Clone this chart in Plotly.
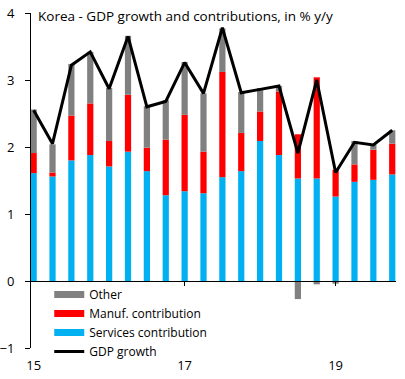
import plotly.graph_objects as go

quarters = [f"{y}Q{q}" for y in range(2015, 2020) for q in range(1, 5)]
services = [1.61, 1.56, 1.80, 1.88, 1.71, 1.93, 1.64, 1.28, 1.34, 1.31,
            1.55, 1.64, 2.09, 1.88, 1.53, 1.53, 1.26, 1.48, 1.51, 1.59]
manuf = [0.30, 0.06, 0.67, 0.77, 0.38, 0.85, 0.35, 0.83, 1.14, 0.62,
         1.57, 0.57, 0.44, 0.95, 0.66, 1.51, 0.40, 0.26, 0.45, 0.46]
other = [0.65, 0.42, 0.77, 0.77, 0.79, 0.88, 0.62, 0.59, 0.79, 0.87,
         0.65, 0.61, 0.35, 0.08, -0.27, -0.05, -0.04, 0.35, 0.08, 0.20]
gdp = [2.55, 2.05, 3.22, 3.42, 2.87, 3.65, 2.60, 2.68, 3.26, 2.80,
       3.78, 2.81, 2.86, 2.91, 1.91, 3.00, 1.62, 2.07, 2.03, 2.25]
tick_labels = {"2015Q1": "15", "2017Q1": "17", "2019Q1": "19"}

C_SERV = "#00B0F0"
C_MANUF = "#FF0000"
C_OTHER = "#808080"
FONT = "Open Sans"

fig = go.Figure()
for name, vals, col in [("Services contribution", services, C_SERV),
                        ("Manuf. contribution", manuf, C_MANUF),
                        ("Other", other, C_OTHER)]:
    fig.add_trace(go.Bar(x=quarters, y=vals, name=name, marker_color=col,
                         marker_line_width=0, width=0.33, showlegend=False,
                         legendgroup=name))

# legend entries for bars (wide swatches)
for rank, (name, col) in enumerate([("Other", C_OTHER),
                                    ("Manuf. contribution", C_MANUF),
                                    ("Services contribution", C_SERV)], start=1):
    fig.add_trace(go.Scatter(x=[None], y=[None], mode="lines", name=name,
                             line=dict(color=col, width=7), legendgroup=name,
                             legendrank=rank, hoverinfo="skip"))

fig.add_trace(go.Scatter(x=quarters, y=gdp, mode="lines", name="GDP growth",
                         line=dict(color="black", width=3), xaxis="x2",
                         legendrank=4, cliponaxis=False))

xr = [-0.14, 19.2]
fig.update_layout(
    width=405, height=379,
    margin=dict(l=31, r=9, t=13, b=31, autoexpand=False),
    paper_bgcolor="white", plot_bgcolor="white",
    barmode="relative",
    font=dict(family=FONT, size=13, color="black"),
    xaxis=dict(type="category", range=xr, anchor="free", position=0.2,
               showline=True, linecolor="black", linewidth=1,
               ticks="outside", ticklen=4, tickcolor="black",
               tickvals=["2017Q1", "2019Q1"], showticklabels=False,
               showgrid=False, zeroline=False, automargin=False),
    xaxis2=dict(type="category", range=xr, overlaying="x", anchor="y",
                side="bottom", showline=False, ticks="",
                tickvals=list(tick_labels.keys()),
                ticktext=list(tick_labels.values()),
                ticklabelstandoff=8, automargin=False,
                showgrid=False, zeroline=False),
    yaxis=dict(range=[-1, 4], tickvals=[-1, 0, 1, 2, 3, 4],
               showline=True, linecolor="black", linewidth=1,
               ticks="outside", ticklen=5, tickcolor="black",
               ticklabelstandoff=8, automargin=False,
               showgrid=False, zeroline=False),
    legend=dict(x=0.05, y=0.203, xanchor="left", yanchor="top",
                bgcolor="rgba(0,0,0,0)", traceorder="normal",
                font=dict(size=12), itemwidth=30, tracegroupgap=0),
    annotations=[dict(text="Korea - GDP growth and contributions, in % y/y",
                      xref="paper", yref="paper", x=0.014, y=0.99,
                      xanchor="left", yanchor="middle", showarrow=False,
                      font=dict(size=13.5))],
)

fig.write_html("out.html", config={"displayModeBar": False},
               post_script="document.body.style.margin='0';document.body.style.overflow='hidden';")
